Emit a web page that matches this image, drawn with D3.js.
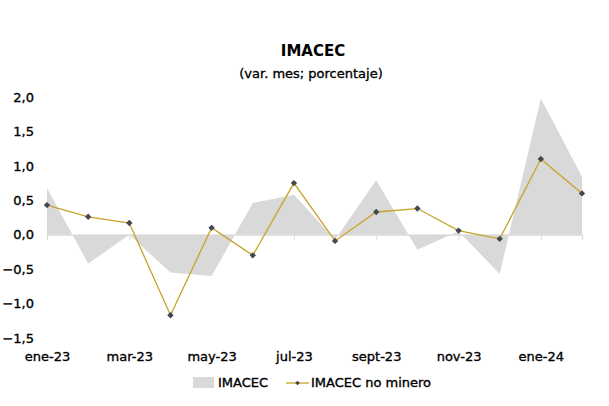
<!DOCTYPE html>
<html><head><meta charset="utf-8">
<script src="https://cdn.jsdelivr.net/npm/d3@7/dist/d3.min.js"></script>
<style>body{margin:0;background:#fff}svg{display:block;font-family:"DejaVu Sans",sans-serif}
.t{stroke:#000;stroke-width:0.35px}</style>
</head><body><svg id="c" width="609" height="406"></svg>
<script>
const months = ["ene-23","feb-23","mar-23","abr-23","may-23","jun-23","jul-23","ago-23","sept-23","oct-23","nov-23","dic-23","ene-24","feb-24"];
const imacec = [0.68,-0.42,0.0,-0.55,-0.6,0.46,0.58,-0.07,0.79,-0.22,0.05,-0.57,1.98,0.84];
const noMinero = [0.43,0.26,0.17,-1.17,0.1,-0.3,0.75,-0.09,0.33,0.38,0.06,-0.06,1.1,0.6];
const yTicks = [-1.5,-1.0,-0.5,0,0.5,1.0,1.5,2.0];
const xTickLabels = ["ene-23","mar-23","may-23","jul-23","sept-23","nov-23","ene-24"];

const svg = d3.select("#c");
const x = d3.scalePoint().domain(months).range([47,582]);
const y = d3.scaleLinear().domain([-1.5,2]).range([338,97]);
const fmt = v => d3.format(".1f")(v).replace(".",",").replace("-","\u2212");

svg.append("text").attr("x",313).attr("y",56).attr("text-anchor","middle")
  .attr("font-size",15).attr("font-weight","bold").text("IMACEC");
svg.append("text").attr("x",311).attr("y",78).attr("text-anchor","middle").attr("class","t")
  .attr("font-size",13).text("(var. mes; porcentaje)");

// area
svg.append("path").datum(imacec)
  .attr("fill","#d9d9d9")
  .attr("d", d3.area().x((d,i)=>x(months[i])).y0(y(0)).y1(d=>y(d)));

// x axis line at zero
const xAxis = d3.axisBottom(x).tickValues(xTickLabels).tickSize(5).tickFormat("");
const gx = svg.append("g").attr("transform",`translate(0,${y(0)})`).call(xAxis);
gx.select(".domain").attr("stroke","#d9d9d9").attr("stroke-width",1.2);
gx.selectAll(".tick line").attr("stroke","#d9d9d9");

// x labels at bottom
const xl = d3.axisBottom(x).tickValues(xTickLabels).tickSize(0).tickPadding(0);
const gxl = svg.append("g").attr("transform","translate(0,352)").call(xl);
gxl.select(".domain").remove();
gxl.selectAll("text").attr("font-size",13).attr("fill","#000").attr("class","t").attr("font-family","DejaVu Sans").attr("dy","0.71em");

// y axis labels
const ya = d3.axisLeft(y).tickValues(yTicks).tickSize(0).tickPadding(0).tickFormat(fmt);
const gy = svg.append("g").attr("transform","translate(34,0)").call(ya);
gy.select(".domain").remove();
gy.selectAll("text").attr("font-size",13).attr("fill","#000").attr("class","t").attr("font-family","DejaVu Sans");

// line
svg.append("path").datum(noMinero).attr("fill","none").attr("stroke","#c9a229").attr("stroke-width",1.3)
  .attr("d", d3.line().x((d,i)=>x(months[i])).y(d=>y(d)));
const diamond = d3.symbol().type(d3.symbolDiamond2).size(26);
svg.selectAll(".pt").data(noMinero).enter().append("path")
  .attr("transform",(d,i)=>`translate(${x(months[i])},${y(d)})`)
  .attr("d",diamond).attr("fill","#404854");

// legend
const lg = svg.append("g");
lg.append("rect").attr("x",193).attr("y",377).attr("width",21).attr("height",11).attr("fill","#d9d9d9");
lg.append("text").attr("x",218).attr("y",387).attr("font-size",13).attr("class","t").text("IMACEC");
lg.append("line").attr("x1",286).attr("x2",309).attr("y1",383).attr("y2",383).attr("stroke","#c9a229").attr("stroke-width",1.3);
lg.append("path").attr("transform","translate(297.5,383)").attr("d",d3.symbol().type(d3.symbolDiamond2).size(14)).attr("fill","#404854");
lg.append("text").attr("x",311).attr("y",387).attr("font-size",13).attr("class","t").text("IMACEC no minero");
</script></body></html>
